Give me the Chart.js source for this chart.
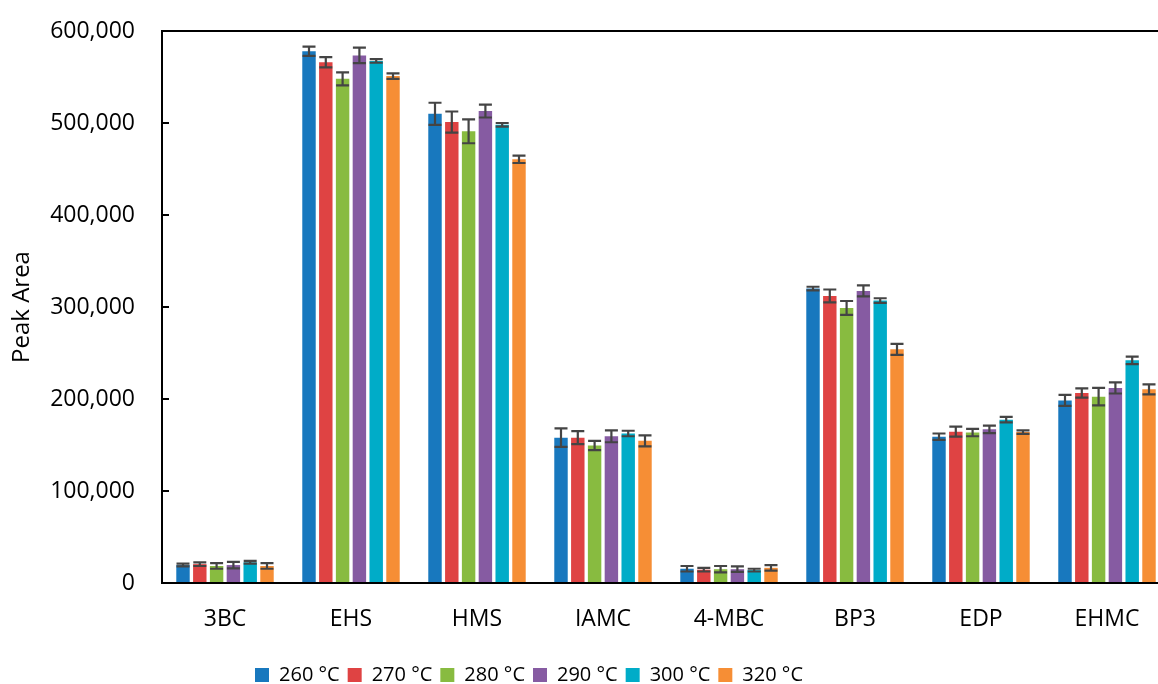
<!DOCTYPE html>
<html>
<head>
<meta charset="utf-8">
<script src="https://cdn.jsdelivr.net/npm/chart.js@4"></script>
<style>
  html, body { margin: 0; padding: 0; background: #fff; }
  #wrap { width: 1158px; height: 684px; overflow: hidden; position: relative; }
</style>
</head>
<body>
<div id="wrap">
  <canvas id="myChart" width="1172" height="695"></canvas>
</div>
<script>
const categories = ['3BC', 'EHS', 'HMS', 'IAMC', '4-MBC', 'BP3', 'EDP', 'EHMC'];
const seriesNames = ['260 °C', '270 °C', '280 °C', '290 °C', '300 °C', '320 °C'];
const yTicks = [0, 100000, 200000, 300000, 400000, 500000, 600000];

const area260 = [19500, 578000, 510000, 158000, 15500, 320000, 159000, 198500];
const area270 = [20500, 566000, 501000, 158000, 14500, 312000, 164500, 206500];
const area280 = [18500, 548000, 491000, 149500, 15000, 299000, 163500, 202500];
const area290 = [19500, 573500, 513000, 159500, 15000, 317500, 167000, 212000];
const area300 = [22500, 567500, 498000, 162500, 14000, 307000, 177500, 242000];
const area320 = [18500, 551000, 460500, 154500, 16500, 254000, 164000, 210500];

const err260 = [1500, 5000, 12000, 10000, 3000, 2000, 3500, 6000];
const err270 = [2000, 5500, 11500, 7000, 2000, 7000, 5500, 5000];
const err280 = [3000, 7000, 13000, 5000, 3500, 7500, 4000, 9500];
const err290 = [3500, 8500, 7000, 6500, 3000, 6000, 4000, 6000];
const err300 = [1500, 2000, 2000, 3000, 1500, 2500, 3000, 4000];
const err320 = [3000, 3000, 4000, 6000, 3000, 6000, 2000, 5500];

const colors = ['#1878BE', '#DF4343', '#88BB40', '#865BA2', '#00ACC8', '#F68E35'];

const values = [area260, area270, area280, area290, area300, area320];
const errors = [err260, err270, err280, err290, err300, err320];

const FONT = "'Open Sans', 'Liberation Sans', sans-serif";

const datasets = seriesNames.map((name, i) => ({
	label: name,
	data: values[i],
	errors: errors[i],
	backgroundColor: colors[i],
	borderWidth: 0,
	barPercentage: 0.8,
	categoryPercentage: 0.8
}));

// error bars drawn on top of each bar
const errorBars = {
	id: 'errorBars',
	afterDatasetsDraw(chart) {
		const ctx = chart.ctx;
		const y = chart.scales.y;
		ctx.save();
		ctx.strokeStyle = '#444';
		ctx.lineWidth = 2.2;
		chart.data.datasets.forEach((ds, i) => {
			const meta = chart.getDatasetMeta(i);
			meta.data.forEach((bar, j) => {
				const v = ds.data[j], e = ds.errors[j];
				const top = y.getPixelForValue(v + e);
				const bot = y.getPixelForValue(v - e);
				const half = 6.5;
				ctx.beginPath();
				ctx.moveTo(bar.x, top); ctx.lineTo(bar.x, bot);
				ctx.moveTo(bar.x - half, top); ctx.lineTo(bar.x + half, top);
				ctx.moveTo(bar.x - half, bot); ctx.lineTo(bar.x + half, bot);
				ctx.stroke();
			});
		});
		ctx.restore();
	}
};

// inside tick marks on the value axis
const innerTicks = {
	id: 'innerTicks',
	afterDraw(chart) {
		const ctx = chart.ctx;
		const y = chart.scales.y;
		const left = chart.chartArea.left;
		ctx.save();
		ctx.strokeStyle = '#000';
		ctx.lineWidth = 2;
		yTicks.forEach(t => {
			const py = Math.round(y.getPixelForValue(t));
			ctx.beginPath();
			ctx.moveTo(left, py);
			ctx.lineTo(left + 7, py);
			ctx.stroke();
		});
		ctx.restore();
	}
};

// legend sits left of the canvas centre in the original
const legendShift = {
	id: 'legendShift',
	beforeDraw(chart) {
		const lg = chart.legend;
		lg.left = 0;
		lg.right = 1058;
		lg.width = 1058;
	}
};

new Chart(document.getElementById('myChart'), {
	type: 'bar',
	data: { labels: categories, datasets },
	plugins: [errorBars, innerTicks, legendShift],
	options: {
		responsive: false,
		animation: false,
		layout: { padding: { top: 31, right: 2, left: 0, bottom: 0 } },
		plugins: {
			tooltip: { enabled: false },
			legend: {
				position: 'bottom',
				labels: {
					boxWidth: 14,
					boxHeight: 14,
					padding: 8,
					color: '#000',
					font: { family: FONT, size: 20 }
				}
			}
		},
		scales: {
			x: {
				grid: { display: false, drawTicks: false },
				border: { display: true, color: '#000', width: 2 },
				ticks: { color: '#000', padding: 23, font: { family: FONT, size: 23 } },
				afterFit: s => { s.height = 74; }
			},
			y: {
				min: 0,
				max: 600000,
				afterBuildTicks: s => { s.ticks = yTicks.map(v => ({ value: v })); },
				grid: {
					drawTicks: false,
					lineWidth: 2,
					color: c => (c.tick && c.tick.value === 600000 ? '#000' : 'rgba(0,0,0,0)')
				},
				border: { display: true, color: '#000', width: 2 },
				ticks: {
					color: '#000',
					padding: 27,
					font: { family: FONT, size: 23 },
					callback: v => v.toLocaleString('en-US')
				},
				title: {
					display: true,
					text: 'Peak Area',
					color: '#000',
					font: { family: FONT, size: 24 },
					padding: { top: 8, bottom: 0 }
				},
				afterFit: s => {
					s.width = 162;
					s.paddingTop = 0;
					s.paddingBottom = 0;
				}
			}
		}
	}
});
</script>
</body>
</html>
